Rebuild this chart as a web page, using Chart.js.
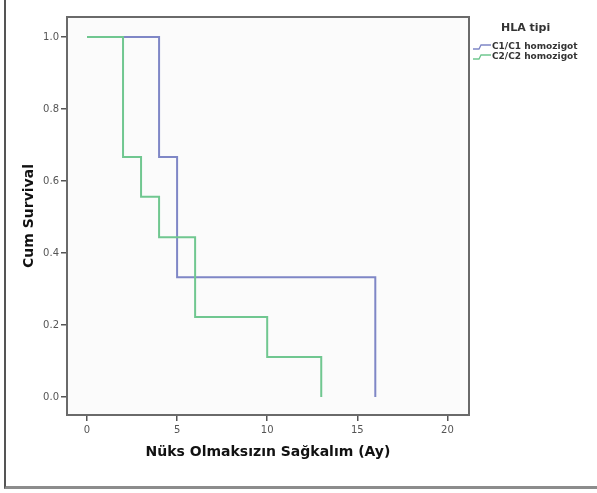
<!DOCTYPE html>
<html>
<head>
<meta charset="utf-8">
<script src="https://cdn.jsdelivr.net/npm/chart.js@4/dist/chart.umd.min.js"></script>
<style>
  body { margin: 0; background: #fff; }
  #wrap { position: relative; width: 597px; height: 493px; }
  #frame { position: absolute; left: 4px; top: 0; width: 593px; height: 489px;
           border-left: 2px solid #555; border-bottom: 3px solid #8c8c8c; box-sizing: border-box; }
  canvas { position: absolute; left: 0; top: 0; }
</style>
</head>
<body>
<div id="wrap">
  <div id="frame"></div>
  <canvas id="myChart" width="597" height="493"></canvas>
</div>
<script>
// survival times (months) and cumulative survival after each event
var c1Times = [0, 4, 5, 16];
var c1Surv = [1.0, 0.667, 0.333, 0.0];
var c2Times = [0, 2, 3, 4, 6, 10, 13];
var c2Surv = [1.0, 0.667, 0.556, 0.444, 0.222, 0.111, 0.0];

var seriesNames = ['C1/C1 homozigot', 'C2/C2 homozigot'];
var legendTitle = 'HLA tipi';
var xTicks = [0, 5, 10, 15, 20];
var yTicks = [0.0, 0.2, 0.4, 0.6, 0.8, 1.0];

var blue = '#7f87c6';
var green = '#70c790';

function toPoints(xs, ys) {
    var pts = [];
    for (var i in xs) {
        pts.push({x: xs[i], y: ys[i]});
    }
    return pts;
}

// plot box + legend drawn by hand
var boxAndLegend = {
    id: 'boxAndLegend',
    beforeDraw: function (chart) {
        var a = chart.chartArea, ctx = chart.ctx;
        ctx.save();
        ctx.fillStyle = '#fbfbfb';
        ctx.fillRect(a.left, a.top, a.right - a.left, a.bottom - a.top);
        ctx.restore();
    },
    afterDraw: function (chart) {
        var a = chart.chartArea, ctx = chart.ctx;
        ctx.save();
        ctx.strokeStyle = '#6a6a6a';
        ctx.lineWidth = 2;
        ctx.strokeRect(a.left, a.top, a.right - a.left, a.bottom - a.top);

        ctx.fillStyle = '#333';
        ctx.textBaseline = 'middle';
        ctx.font = 'bold 11px "DejaVu Sans"';
        ctx.fillText(legendTitle, 501, 28);

        var cols = [blue, green];
        ctx.font = 'bold 9px "DejaVu Sans"';
        for (var i = 0; i < seriesNames.length; i++) {
            var y = 47 + i * 10;
            ctx.strokeStyle = cols[i];
            ctx.lineWidth = 1.3;
            ctx.beginPath();
            ctx.moveTo(473, y + 2);
            ctx.lineTo(479, y + 2);
            ctx.lineTo(481, y - 2);
            ctx.lineTo(491, y - 2);
            ctx.stroke();
            ctx.fillStyle = '#333';
            ctx.fillText(seriesNames[i], 492, y);
        }
        ctx.restore();
    }
};

var chartdata = {
    datasets: [
        {
            label: seriesNames[0],
            data: toPoints(c1Times, c1Surv),
            borderColor: blue,
            borderWidth: 2,
            stepped: 'before',
            pointRadius: 0,
            fill: false,
            order: 1
        },
        {
            label: seriesNames[1],
            data: toPoints(c2Times, c2Surv),
            borderColor: green,
            borderWidth: 2,
            stepped: 'before',
            pointRadius: 0,
            fill: false,
            order: 0
        }
    ]
};

var tickFont = {family: '"DejaVu Sans"', size: 10};
var titleFont = {family: '"DejaVu Sans"', size: 14, weight: 'bold'};

new Chart(document.getElementById('myChart'), {
    type: 'line',
    data: chartdata,
    plugins: [boxAndLegend],
    options: {
        responsive: false,
        animation: false,
        layout: {padding: {left: 0, right: 128, top: 17, bottom: 0}},
        plugins: {legend: {display: false}, tooltip: {enabled: false}},
        scales: {
            x: {
                type: 'linear',
                min: -1.11,
                max: 21.2,
                afterBuildTicks: function (s) { s.ticks = xTicks.map(function (v) { return {value: v}; }); },
                afterFit: function (s) { s.height = 78; },
                grid: {drawOnChartArea: false, drawTicks: true, tickLength: 6, color: '#555', lineWidth: 1.5},
                border: {display: false},
                ticks: {color: '#555', font: tickFont, padding: 3, maxRotation: 0},
                title: {display: true, text: 'Nüks Olmaksızın Sağkalım (Ay)', color: '#111', font: titleFont, padding: {bottom: 32}}
            },
            y: {
                type: 'linear',
                min: -0.05,
                max: 1.0556,
                afterBuildTicks: function (s) { s.ticks = yTicks.map(function (v) { return {value: v}; }); },
                afterFit: function (s) { s.width = 67; },
                grid: {drawOnChartArea: false, drawTicks: true, tickLength: 6, color: '#555', lineWidth: 1.5},
                border: {display: false},
                ticks: {color: '#555', font: tickFont, padding: 2, callback: function (v) { return Number(v).toFixed(1); }},
                title: {display: true, text: 'Cum Survival', color: '#111', font: titleFont, padding: {top: 21}}
            }
        }
    }
});
</script>
</body>
</html>
